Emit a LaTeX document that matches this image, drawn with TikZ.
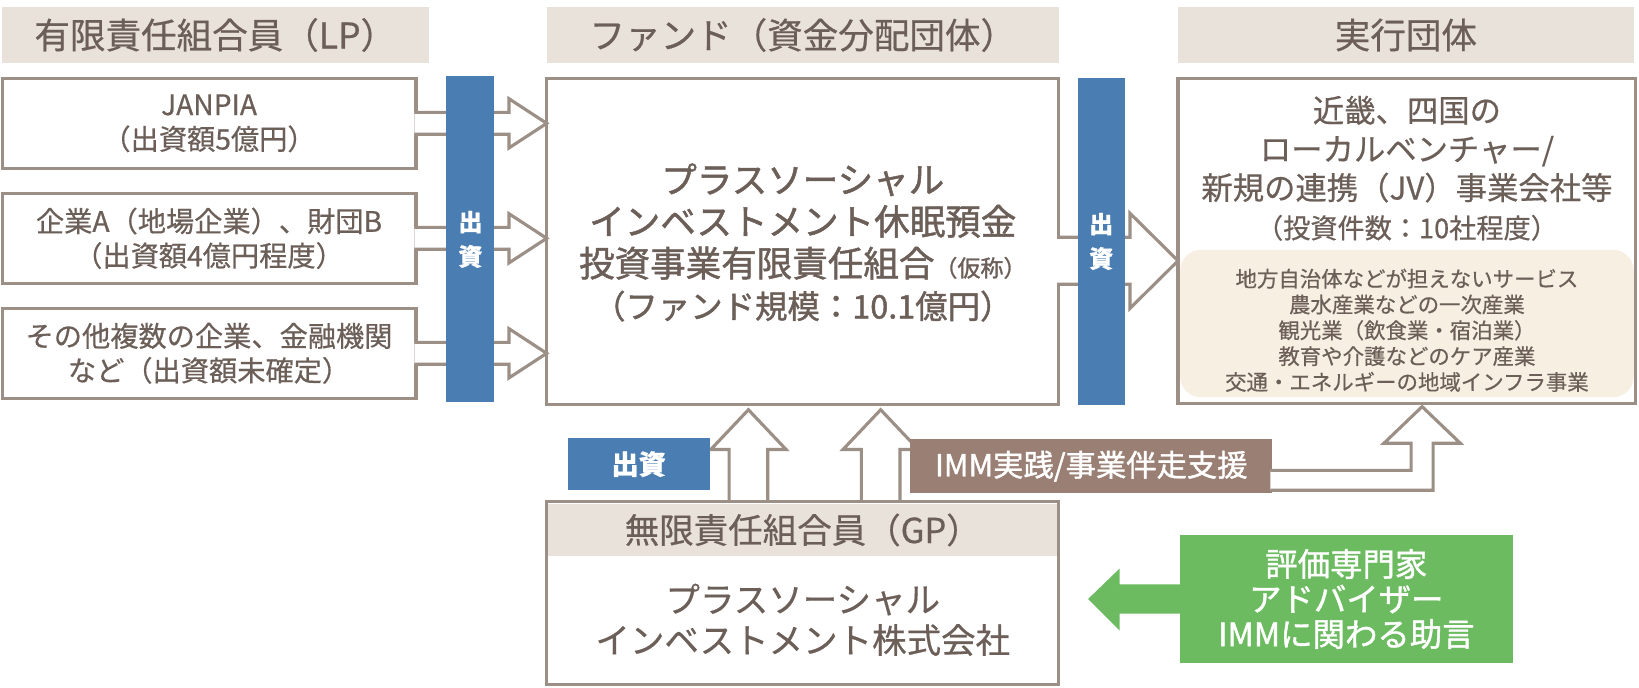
\documentclass[tikz,border=0pt]{standalone}
\usepackage{fontspec}
\setmainfont{Noto Sans CJK JP}[FakeBold=0.5]
\newfontfamily\medfont[FakeBold=1.3]{Noto Sans CJK JP}
\usetikzlibrary{calc}
\definecolor{txt}{HTML}{6B5F58}
\definecolor{ln}{HTML}{9B8F86}
\definecolor{hdr}{HTML}{E9E2DB}
\definecolor{blu}{HTML}{4A7DB1}
\definecolor{brn}{HTML}{9A8074}
\definecolor{crm}{HTML}{F8EFE3}
\definecolor{grn}{HTML}{6CBB61}
\newcommand\mysz[2]{\fontsize{#1pt}{#2pt}\selectfont}
\tikzset{
  every node/.style={inner sep=0pt, outer sep=0pt, text=txt, align=center},
  hdrbox/.style={fill=hdr, minimum height=53pt, font=\mysz{34}{40}},
  obox/.style={draw=ln, line width=3pt, fill=white},
  arr/.style={draw=ln, line width=3pt, line join=miter, fill=white},
  bluebar/.style={fill=blu, minimum width=46pt, minimum height=312pt, text=white, font=\bfseries\mysz{23}{33}},
}
\begin{document}
\begin{tikzpicture}[x=1pt,y=-1pt]
\useasboundingbox (0,0) rectangle (1568,657.3);
% headers
\node[hdrbox, minimum width=408pt] (hLP) at (206,33.5) {有限責任組合員（LP）};
\node[hdrbox, minimum width=490pt] (hFund) at (768,33.5) {ファンド（資金分配団体）};
\node[hdrbox, minimum width=436pt] (hExe) at (1345,33.5) {実行団体};
% LP boxes
\node[obox, minimum width=396pt, minimum height=86pt, font=\mysz{27}{33}] (lp1) at (200,118) {JANPIA\\（出資額5億円）};
\node[obox, minimum width=396pt, minimum height=86pt, font=\mysz{27}{33}] (lp2) at (200,228) {企業A（地場企業）、財団B\\（出資額4億円程度）};
\node[obox, minimum width=396pt, minimum height=86pt, font=\mysz{27}{33}] (lp3) at (200,338) {その他複数の企業、金融機関\\など（出資額未確定）};
% fund box
\node[obox, minimum width=490pt, minimum height=312pt] (fund) at (768,231) {};
\node[font=\medfont\mysz{34}{40}] (fundtxt) at (768,232) {プラスソーシャル\\インベストメント休眠預金\\投資事業有限責任組合{\mysz{22}{40}（仮称）}\\{\mysz{31}{40}（ファンド規模：10.1億円）}};
% exe box
\node[obox, minimum width=438pt, minimum height=311pt] (exe) at (1346,230.5) {};
\node[fill=crm, rounded corners=20pt, minimum width=434pt, minimum height=141pt] (crmbox) at (1346,309.5) {};
\node[font=\mysz{30}{37}] (exetxt) at (1346,161) {近畿、四国の\\ローカルベンチャー/\\新規の連携（JV）事業会社等\\{\mysz{26}{37}（投資件数：10社程度）}};
\node[font=\mysz{20.5}{24.7}] (crmtxt) at (1346,316) {地方自治体などが担えないサービス\\農水産業などの一次産業\\観光業（飲食業・宿泊業）\\教育や介護などのケア産業\\交通・エネルギーの地域インフラ事業};
% LP arrows
\foreach \s in {lp1,lp2,lp3}{
  \draw[arr] ($(\s.east)+(-1.6,-10.5)$) -- ($(\s.east)+(89,-10.5)$) -- ($(\s.east)+(89,-23.5)$)
    -- (fund.west |- \s.east) -- ($(\s.east)+(89,23.5)$) -- ($(\s.east)+(89,10.5)$) -- ($(\s.east)+(-1.6,10.5)$);
}
% fund -> exe arrow
\coordinate (fe) at ($(fund.east)+(0,18.5)$);
\draw[arr] ($(fe)+(-1.6,-22.5)$) -- ($(fe)+(68,-22.5)$) -- ($(fe)+(68,-45.5)$) -- (exe.west |- fe)
  -- ($(fe)+(68,45.5)$) -- ($(fe)+(68,22.5)$) -- ($(fe)+(-1.6,22.5)$);
% blue bars
\node[bluebar] (bar1) at (450,229) {出\\資};
\node[bluebar, minimum width=45pt] (bar2) at (1053.5,231) {出\\資};
% up arrows from GP to fund
\coordinate (gptop) at (768,480);
\coordinate (u1) at ($(gptop)+(-52,0)$);
\coordinate (u2) at ($(gptop)+(74.5,0)$);
\foreach \u in {u1,u2}{
  \draw[arr] ($(\u)+(-18.5,0)$) -- ($(\u)+(-18.5,-50)$) -- ($(\u)+(-36,-50)$) -- ($(\u)+(0,-88)$)
    -- ($(\u)+(36,-50)$) -- ($(\u)+(18.5,-50)$) -- ($(\u)+(18.5,0)$);
}
% GP box
\node[obox, minimum width=490pt, minimum height=175pt] (gp) at (768,567.5) {};
\node[fill=hdr, minimum width=487pt, minimum height=50pt] (gphdr) at (768,507) {};
\node[font=\mysz{33}{40}] (gphtxt) at (768,507) {無限責任組合員（GP）};
\node[font=\mysz{33}{39}] (gptxt) at (768,593) {プラスソーシャル\\インベストメント株式会社};
% labels
\node[fill=blu, minimum width=136pt, minimum height=50pt, text=white, font=\bfseries\mysz{26}{30}] (lbl1) at (611,444) {出資};
\node[fill=brn, minimum width=346pt, minimum height=52pt, text=white, font=\medfont\mysz{29}{34}] (lbl2) at (1044,446) {IMM実践/事業伴走支援};
% elbow arrow from brown label to exe
\coordinate (etip) at ($(exe.south)+(14.5,3)$);
\coordinate (e1) at ($(lbl2.east)+(-1.6,4)$);
\coordinate (e2) at ($(lbl2.east)+(-1.6,23)$);
\coordinate (sl) at ($(etip)+(-10.5,35)$);
\coordinate (sr) at ($(etip)+(10.5,35)$);
\draw[arr] (e1) -- (e1 -| sl) -- (sl) -- ($(etip)+(-36.5,35)$) -- (etip)
  -- ($(etip)+(36.5,35)$) -- (sr) -- (e2 -| sr) -- (e2);
% green
\node[fill=grn, minimum width=318pt, minimum height=122pt, text=white, font=\medfont\mysz{31}{33.5}] (grnbox) at (1288,573) {評価専門家\\アドバイザー\\IMMに関わる助言};
\fill[grn] ($(grnbox.west)+(1,-14)$) -- ($(grnbox.west)+(-58,-14)$) -- ($(grnbox.west)+(-58,-29)$) -- ($(grnbox.west)+(-88,0)$)
  -- ($(grnbox.west)+(-58,30)$) -- ($(grnbox.west)+(-58,14)$) -- ($(grnbox.west)+(1,14)$) -- cycle;
\end{tikzpicture}
\end{document}
